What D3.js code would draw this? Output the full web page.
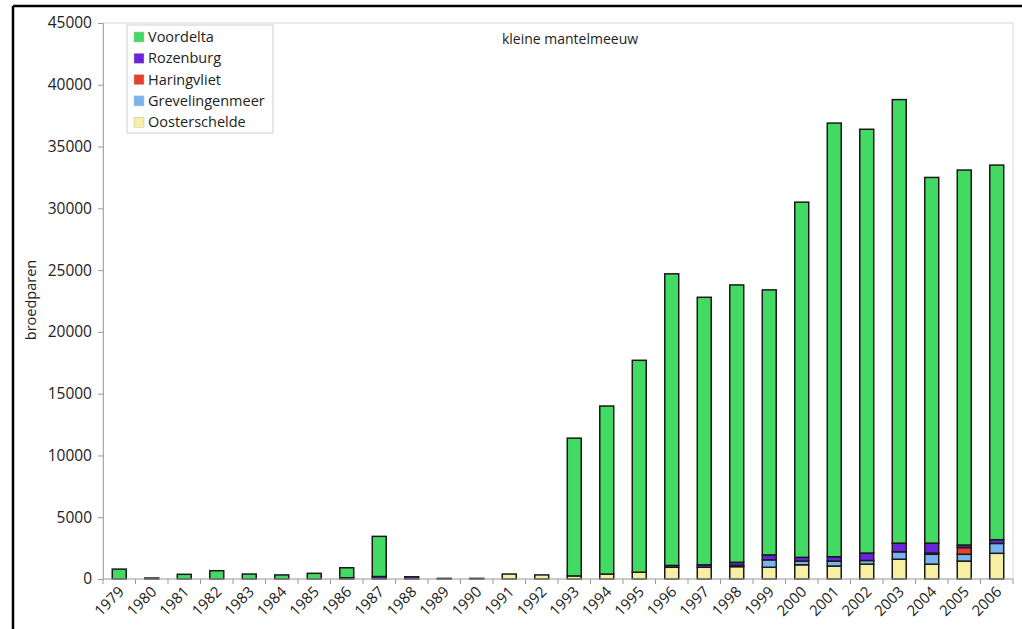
<!DOCTYPE html>
<html>
<head>
<meta charset="utf-8">
<script src="https://cdn.jsdelivr.net/npm/d3@7"></script>
<style>
  html, body { margin: 0; padding: 0; background: #fff; }
  svg text { font-family: "Open Sans", "DejaVu Sans", sans-serif; fill: #222; }
</style>
</head>
<body>
<svg id="chart" width="1022" height="629"></svg>
<script>
// Broedparen kleine mantelmeeuw per gebied, 1979-2006
const years = ["1979","1980","1981","1982","1983","1984","1985","1986","1987","1988","1989","1990","1991","1992","1993","1994","1995","1996","1997","1998","1999","2000","2001","2002","2003","2004","2005","2006"];
const oosterschelde   = [0,0,0,0,0,0,0,0,0,0,0,0,400,330,250,400,550,950,950,1000,950,1150,1050,1200,1600,1200,1450,2080];
const grevelingenmeer = [0,0,0,0,0,0,0,0,0,0,0,0,0,0,0,0,0,0,0,100,600,300,400,300,600,800,550,800];
const haringvliet     = [0,0,0,0,0,0,0,0,0,0,0,0,0,0,0,0,0,0,0,0,0,0,0,0,0,100,550,0];
const rozenburg       = [0,0,0,0,0,0,0,100,200,180,0,0,0,0,0,0,0,150,200,250,400,300,350,600,700,800,200,300];
const voordelta       = [800,80,380,670,400,330,460,810,3250,0,50,50,0,0,11150,13600,17150,23600,21650,22450,21450,28750,35100,34300,35900,29600,30350,30320];

const seriesNames  = ["Oosterschelde","Grevelingenmeer","Haringvliet","Rozenburg","Voordelta"];
const seriesValues = [oosterschelde, grevelingenmeer, haringvliet, rozenburg, voordelta];
const seriesColors = ["#f7f0a2","#78b4ef","#e4402c","#6a24dc","#42da62"];
const yTicks = [0,5000,10000,15000,20000,25000,30000,35000,40000,45000];
const title = "kleine mantelmeeuw";
const yTitle = "broedparen";

const rows = years.map((y, i) => {
  const r = { year: y };
  seriesNames.forEach((n, k) => r[n] = seriesValues[k][i]);
  return r;
});

const svg = d3.select("#chart");
const W = 1022, H = 629;
const margin = { left: 103, right: 9, top: 23 };
const plotW = W - margin.left - margin.right;
const plotH = 556;

// outer frame
svg.append("line").attr("x1", 13).attr("x2", 13).attr("y1", 6).attr("y2", H)
  .attr("stroke", "#000").attr("stroke-width", 2.5);
svg.append("line").attr("x1", 13).attr("x2", W).attr("y1", 6).attr("y2", 6)
  .attr("stroke", "#000").attr("stroke-width", 2.5);

const g = svg.append("g").attr("transform", `translate(${margin.left},${margin.top})`);

const x = d3.scaleBand().domain(years).range([0, plotW]).paddingInner(0).paddingOuter(0);
const y = d3.scaleLinear().domain([0, 45000]).range([plotH, 0]);

// plot area border
g.append("rect").attr("x", 0).attr("y", 0).attr("width", plotW).attr("height", plotH)
  .attr("fill", "none").attr("stroke", "#d8d8d8").attr("stroke-width", 1);

// stacked bars
const stack = d3.stack().keys(seriesNames)(rows);
const barW = x.bandwidth() * 0.43;
stack.forEach((layer, k) => {
  g.append("g").selectAll("rect")
    .data(layer.filter(d => d[1] - d[0] > 0))
    .join("rect")
    .attr("x", d => x(d.data.year) + (x.bandwidth() - barW) / 2)
    .attr("y", d => y(d[1]))
    .attr("width", barW)
    .attr("height", d => y(d[0]) - y(d[1]))
    .attr("fill", seriesColors[k])
    .attr("stroke", "#1a1a1a")
    .attr("stroke-width", 1.5);
});

// y axis
const yAxis = g.append("g").call(d3.axisLeft(y).tickValues(yTicks).tickSize(5).tickPadding(6).tickFormat(d3.format("d")));
yAxis.select(".domain").attr("stroke", "#aaa");
yAxis.selectAll(".tick line").attr("stroke", "#999");
yAxis.selectAll("text").style("font-size", "15.5px").attr("fill", "#222");

// x axis with ticks between categories
const xAxisG = g.append("g").attr("transform", `translate(0,${plotH})`);
xAxisG.append("line").attr("x1", 0).attr("x2", plotW).attr("stroke", "#aaa");
xAxisG.selectAll("line.tk").data(years.concat(["end"])).join("line").attr("class", "tk")
  .attr("x1", (d, i) => i * x.step()).attr("x2", (d, i) => i * x.step())
  .attr("y1", 0).attr("y2", 5).attr("stroke", "#999");
xAxisG.selectAll("text").data(years).join("text")
  .attr("transform", d => `translate(${x(d) + x.bandwidth() / 2 + 2},${10}) rotate(-45)`)
  .attr("text-anchor", "end")
  .attr("dy", "0.35em")
  .style("font-size", "15px")
  .text(d => d);

// y title
svg.append("text")
  .attr("transform", `translate(36,300) rotate(-90)`)
  .attr("text-anchor", "middle")
  .style("font-size", "14.5px")
  .text(yTitle);

// chart title
svg.append("text").attr("x", 570).attr("y", 44).attr("text-anchor", "middle")
  .style("font-size", "14px").text(title);

// legend (top to bottom: Voordelta first)
const leg = svg.append("g").attr("transform", "translate(127,25)");
leg.append("rect").attr("width", 146).attr("height", 108)
  .attr("fill", "#fff").attr("stroke", "#cfcfcf");
const legOrder = seriesNames.map((n, k) => ({ n, c: seriesColors[k] })).reverse();
const items = leg.selectAll("g").data(legOrder).join("g")
  .attr("transform", (d, i) => `translate(7,${12 + i * 21.3})`);
items.append("rect").attr("x", 0).attr("y", -5).attr("width", 10).attr("height", 10)
  .attr("fill", d => d.c).attr("stroke", "#bbb").attr("stroke-width", 0.5);
items.append("text").attr("x", 14).attr("y", 0).attr("dy", "0.35em")
  .style("font-size", "14.5px").text(d => d.n);
</script>
</body>
</html>
